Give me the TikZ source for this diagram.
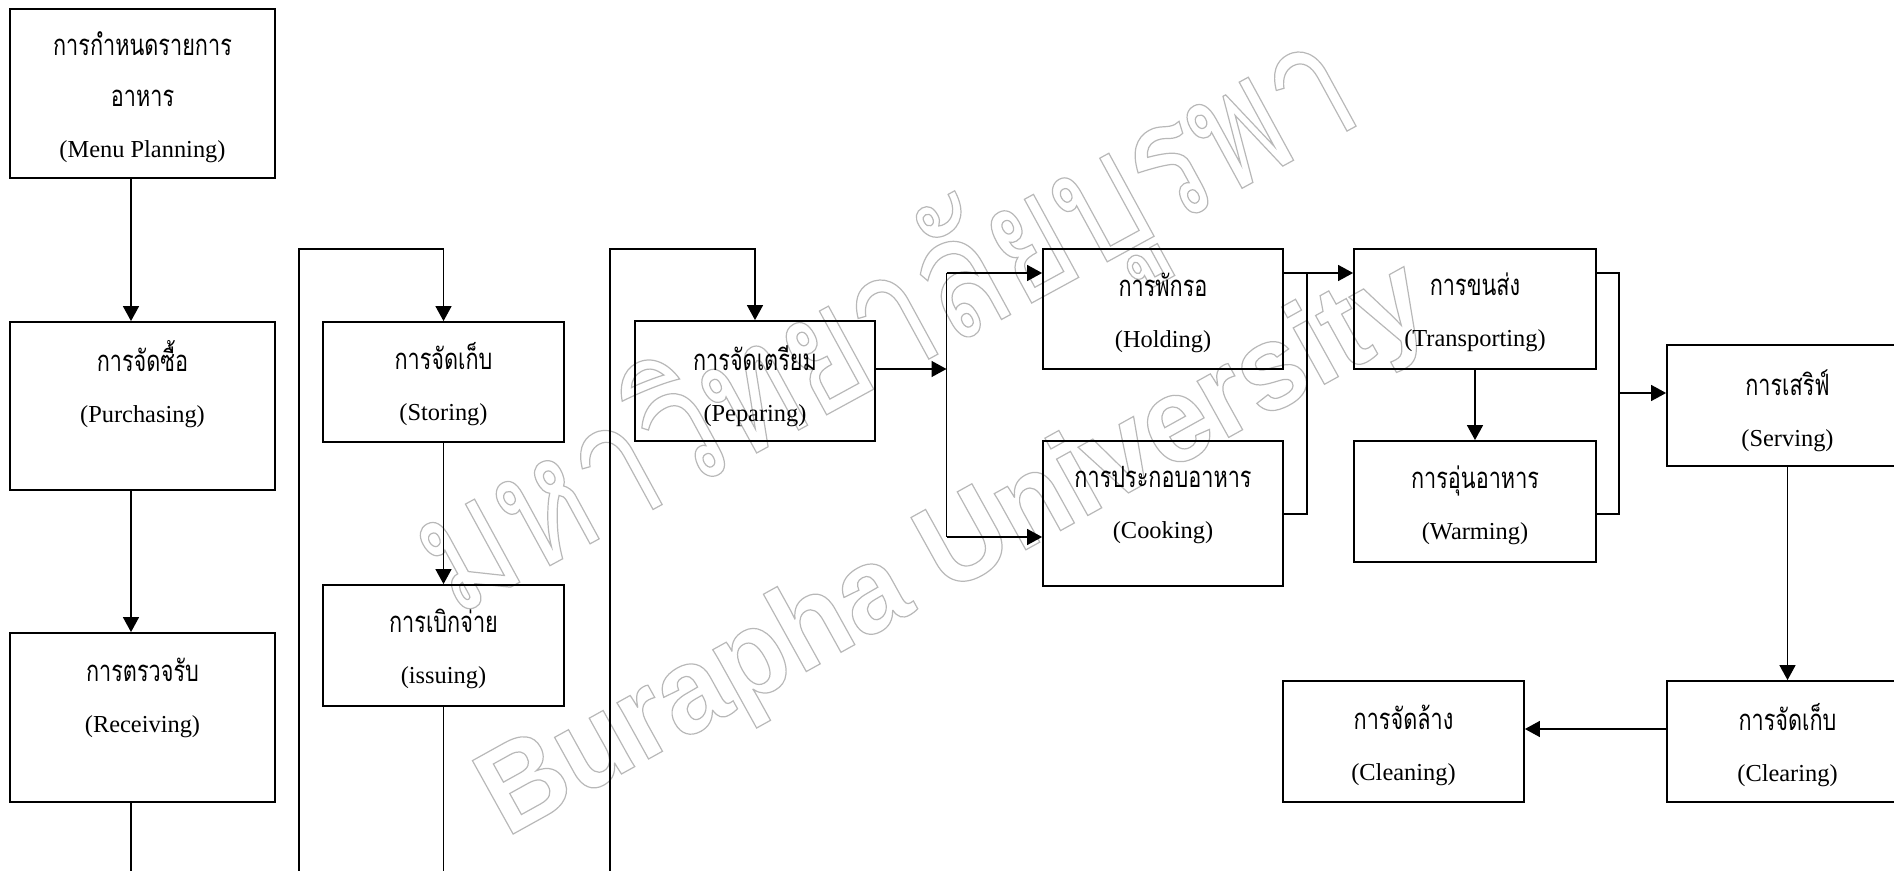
\documentclass[tikz,border=0pt]{standalone}
\usepackage{fontspec}
\setmainfont{Liberation Serif}
\newfontfamily\thaifont[Script=Thai,FakeStretch=0.74,Scale=1.2]{Loma}
\newfontfamily\markthai[Script=Thai,FakeStretch=0.78]{Loma}
\newfontfamily\marklatin[FakeStretch=0.95]{Liberation Sans}
\usetikzlibrary{arrows.meta,calc}
% hollow (stroked-only) glyphs for the background mark
\newcommand\hollow[1]{\special{pdf:literal direct 1 Tr 0.6 w}#1\special{pdf:literal direct 0 Tr}}
\newcommand\thx[1]{{\thaifont #1}}
\tikzset{
  px/.style 2 args={minimum width=#1*0.5pt, minimum height=#2*0.5pt},
  box/.style={draw, line width=0.9pt, rectangle, inner sep=0pt},
  lbl/.style={align=center, inner sep=0pt, font=\fontsize{12.2}{25.5}\selectfont},
  link/.style={line width=0.7pt},
  arr/.style={link, -{Triangle[length=7.5pt,width=8pt]}},
  wmark/.style={inner sep=0pt, text=black!28, anchor=base west, rotate=29},
}
\begin{document}
\begin{tikzpicture}[x=0.5pt, y=-0.5pt]
\useasboundingbox (0,0) rectangle (1894,871);
\clip (0,0) rectangle (1894,871);

% background mark
\node[wmark, rotate=-0.4, font=\markthai\fontsize{85}{85}\selectfont] (wmTh) at (454,618) {\hollow{มหาวิทยาลัยบูรพา}};
\node[wmark, font=\marklatin\bfseries\fontsize{61}{61}\selectfont] (wmEn) at (506,838) {\hollow{Burapha University}};

% process boxes
\node[box, px={265}{169}] (menu)  at (142.5,93.5)  {};
\node[box, px={265}{168}] (purch) at (142.5,406)   {};
\node[box, px={265}{169}] (recv)  at (142.5,717.5) {};
\node[box, px={241}{120}] (stor)  at (443.5,382)   {};
\node[box, px={241}{121}] (issu)  at (443.5,645.5) {};
\node[box, px={240}{120}] (prep)  at (755,381)     {};
\node[box, px={240}{120}] (hold)  at (1163,309)    {};
\node[box, px={240}{145}] (cook)  at (1163,513.5)  {};
\node[box, px={242}{120}] (trans) at (1475,309)    {};
\node[box, px={242}{121}] (warm)  at (1475,501.5)  {};
\node[box, px={241}{121}] (serv)  at (1787.5,405.5){};
\node[box, px={241}{121}] (clear) at (1787.5,741.5){};
\node[box, px={241}{121}] (clean) at (1403.5,741.5){};

% box texts
\node[lbl] (menuT)  at (142.5,97.5) {\thx{การกำหนดรายการ}\\\thx{อาหาร}\\(Menu Planning)};
\node[lbl] (purchT) at (142.5,384)  {\thx{การจัดซื้อ}\\(Purchasing)};
\node[lbl] (recvT)  at (142.5,697.5){\thx{การตรวจรับ}\\(Receiving)};
\node[lbl] (storT)  at (443.5,384)  {\thx{การจัดเก็บ}\\(Storing)};
\node[lbl] (issuT)  at (443.5,649)  {\thx{การเบิกจ่าย}\\(issuing)};
\node[lbl] (prepT)  at (755,386)    {\thx{การจัดเตรียม}\\(Peparing)};
\node[lbl] (holdT)  at (1163,312.5) {\thx{การพักรอ}\\(Holding)};
\node[lbl] (cookT)  at (1163,505.5) {\thx{การประกอบอาหาร}\\(Cooking)};
\node[lbl] (transT) at (1475,312.5) {\thx{การขนส่ง}\\(Transporting)};
\node[lbl] (warmT)  at (1475,505.5) {\thx{การอุ่นอาหาร}\\(Warming)};
\node[lbl] (servT)  at (1787.5,411) {\thx{การเสริฟ์}\\(Serving)};
\node[lbl] (clearT) at (1787.5,745.5){\thx{การจัดเก็บ}\\(Clearing)};
\node[lbl] (cleanT) at (1403.5,745.5){\thx{การจัดล้าง}\\(Cleaning)};

% first column: planning -> purchasing -> receiving -> on
\coordinate (xA) at (131,0);
\coordinate (b1) at (131,871);
\draw[arr] (xA |- menu.south) -- (xA |- purch.north);
\draw[arr] (xA |- purch.south) -- (xA |- recv.north);
\draw[link] (xA |- recv.south) -- (b1);

% second column: storing -> issuing
\coordinate (l1) at (299,871);
\coordinate (l1t) at (299,249);
\draw[arr] (l1) -- (l1t) -| (stor.north);
\draw[arr] (stor.south) -- (issu.north);
\coordinate (b2) at (443.5,871);
\draw[link] (issu.south) -- (b2);

% third column: preparing, then the split
\coordinate (l2) at (610,871);
\coordinate (l2t) at (610,249);
\draw[arr] (l2) -- (l2t) -| (prep.north);
\coordinate (split) at (946.5,369);
\coordinate (sTop) at (946.5,273);
\coordinate (sBot) at (946.5,537);
\draw[arr] (prep.east |- split) -- (split);
\draw[link] (sTop) -- (sBot);
\draw[arr] (sTop) -- (sTop -| hold.west);
\draw[arr] (sBot) -- (sBot -| cook.west);

% holding / cooking -> transporting
\coordinate (m1) at (1307,273);
\coordinate (m2) at (1307,514);
\draw[arr] (hold.east |- m1) -- (trans.west |- m1);
\draw[link] (m1) -- (m2) -- (cook.east |- m2);
\draw[arr] (trans.south) -- (warm.north);

% transporting / warming -> serving
\coordinate (r1) at (1619,273);
\coordinate (r2) at (1619,514);
\coordinate (r3) at (1619,393);
\draw[link] (trans.east |- r1) -- (r1) -- (r2) -- (warm.east |- r2);
\draw[arr] (r3) -- (serv.west |- r3);

% serving -> clearing -> cleaning
\draw[arr] (serv.south) -- (clear.north);
\coordinate (c3) at (0,729);
\draw[arr] (clear.west |- c3) -- (clean.east |- c3);
\end{tikzpicture}
\end{document}
